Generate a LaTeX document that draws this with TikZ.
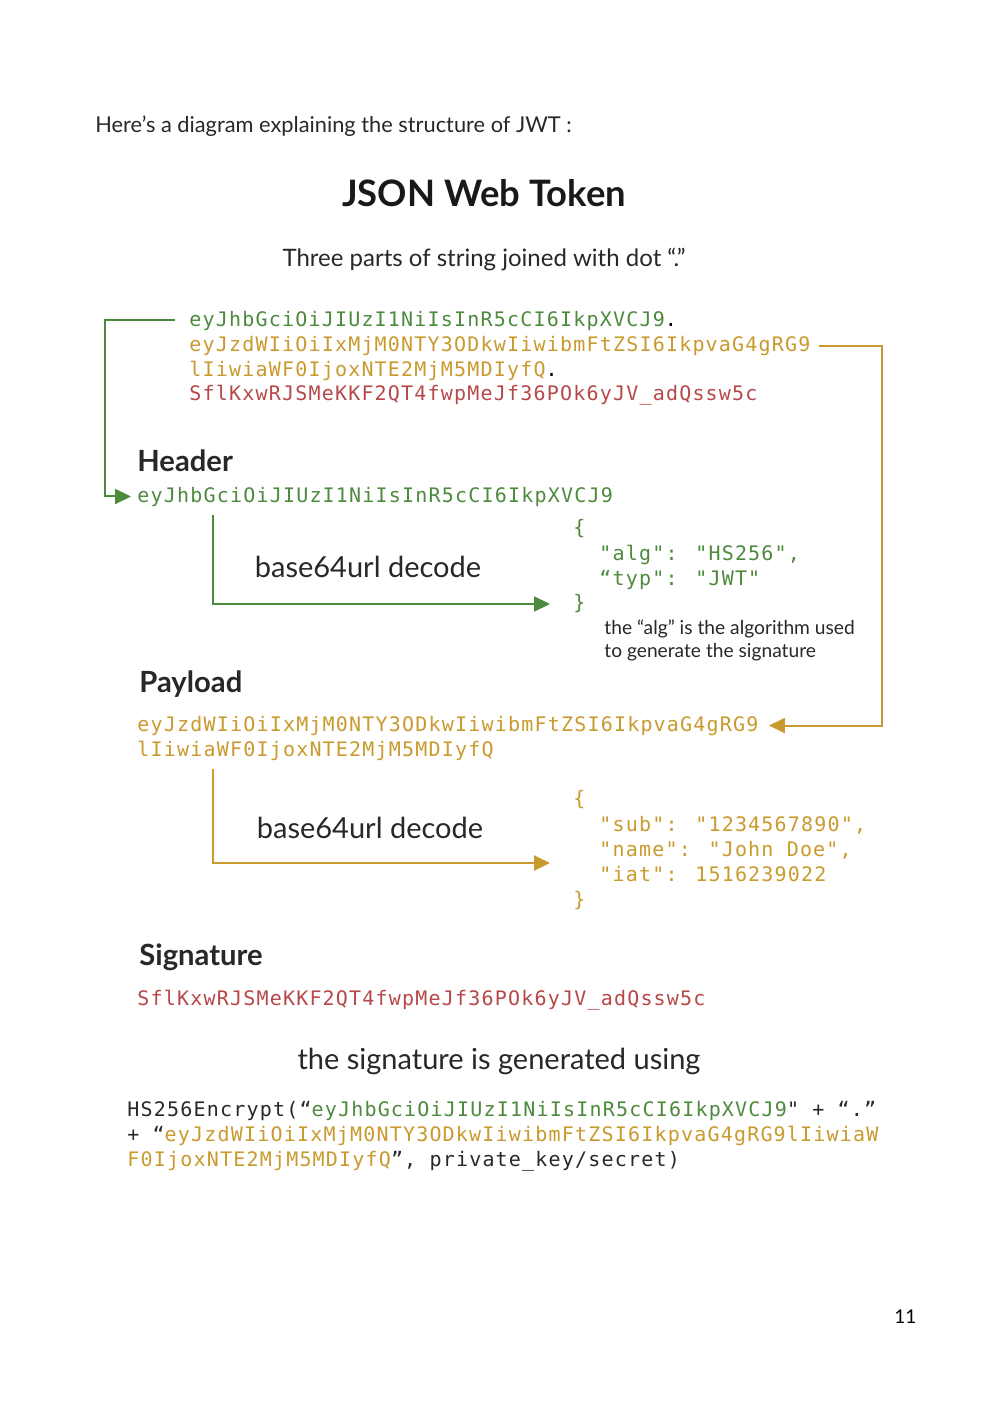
\documentclass[tikz,border=0pt]{standalone}
\usepackage{fontspec}
\setmainfont{Lato}
\newfontfamily\codefont{DejaVu Sans Mono}[LetterSpace=6]
\usetikzlibrary{arrows.meta}
\definecolor{jgreen}{RGB}{78,138,62}
\definecolor{jgold}{RGB}{201,154,46}
\definecolor{jred}{RGB}{183,72,74}
\definecolor{jtext}{RGB}{40,40,40}
\tikzset{
  txt/.style={inner sep=0pt, anchor=base west, text=jtext},
  ctxt/.style={inner sep=0pt, anchor=base, text=jtext},
  code/.style={inner sep=0pt, anchor=base west, font=\codefont\fontsize{10}{12}\selectfont},
  lbl/.style={txt, font=\bfseries\fontsize{14.6}{17}\selectfont},
  conn/.style={line width=1pt},
  tip/.style={-{Triangle[length=8pt,width=7.5pt]}},
}
\begin{document}
\begin{tikzpicture}[x=0.5pt,y=-0.5pt]
\useasboundingbox (0,0) rectangle (1005,1423);
\fill[white] (0,0) rectangle (1005,1423);

\node[txt, font=\fontsize{10.9}{13}\selectfont] (intro) at (95,133) {Here’s a diagram explaining the structure of JWT :};
\node[ctxt, font=\bfseries\fontsize{18.2}{22}\selectfont, text=black!90] (title) at (484,207) {JSON Web Token};
\node[ctxt, font=\fontsize{12}{14}\selectfont] (sub) at (484,266) {Three parts of string joined with dot “.”};

% full token
\node[code, text=jgreen] (tok1) at (189,326) {eyJhbGciOiJIUzI1NiIsInR5cCI6IkpXVCJ9\textcolor{black}{.}};
\node[code, text=jgold] (tok2) at (189,351) {eyJzdWIiOiIxMjM0NTY3ODkwIiwibmFtZSI6IkpvaG4gRG9};
\node[code, text=jgold] (tok3) at (189,376) {lIiwiaWF0IjoxNTE2MjM5MDIyfQ\textcolor{black}{.}};
\node[code, text=jred] (tok4) at (189,400) {SflKxwRJSMeKKF2QT4fwpMeJf36POk6yJV\_adQssw5c};

% header
\node[lbl] (hlbl) at (137,471) {Header};
\node[code, text=jgreen] (htok) at (137,502) {eyJhbGciOiJIUzI1NiIsInR5cCI6IkpXVCJ9};
\node[ctxt, font=\fontsize{14.5}{17}\selectfont] (hdec) at (368,577) {base64url decode};
\node[code, text=jgreen] (hj1) at (573,534) {\{};
\node[code, text=jgreen] (hj2) at (599,560) {"alg": "HS256",};
\node[code, text=jgreen] (hj3) at (599,585) {“typ": "JWT"};
\node[code, text=jgreen] (hj4) at (573,609) {\}};
\node[txt, font=\fontsize{9.6}{11}\selectfont] (note1) at (604,634) {the “alg” is the algorithm used};
\node[txt, font=\fontsize{9.6}{11}\selectfont] (note2) at (604,657) {to generate the signature};

% payload
\node[lbl] (plbl) at (139,692) {Payload};
\node[code, text=jgold] (ptok1) at (137,731) {eyJzdWIiOiIxMjM0NTY3ODkwIiwibmFtZSI6IkpvaG4gRG9};
\node[code, text=jgold] (ptok2) at (137,756) {lIiwiaWF0IjoxNTE2MjM5MDIyfQ};
\node[ctxt, font=\fontsize{14.5}{17}\selectfont] (pdec) at (370,838) {base64url decode};
\node[code, text=jgold] (pj1) at (573,805) {\{};
\node[code, text=jgold] (pj2) at (599,831) {"sub": "1234567890",};
\node[code, text=jgold] (pj3) at (599,856) {"name": "John Doe",};
\node[code, text=jgold] (pj4) at (599,881) {"iat": 1516239022};
\node[code, text=jgold] (pj5) at (573,906) {\}};

% signature
\node[lbl] (slbl) at (139,965) {Signature};
\node[code, text=jred] (stok) at (137,1005) {SflKxwRJSMeKKF2QT4fwpMeJf36POk6yJV\_adQssw5c};
\node[ctxt, font=\fontsize{14.5}{17}\selectfont] (sgen) at (499,1069) {the signature is generated using};
\node[code, text=jtext] (c1) at (127,1116) {HS256Encrypt(“\textcolor{jgreen}{eyJhbGciOiJIUzI1NiIsInR5cCI6IkpXVCJ9}" + “.”};
\node[code, text=jtext] (c2) at (127,1141) {+ “\textcolor{jgold}{eyJzdWIiOiIxMjM0NTY3ODkwIiwibmFtZSI6IkpvaG4gRG9lIiwiaW}};
\node[code, text=jtext] (c3) at (127,1166) {\textcolor{jgold}{F0IjoxNTE2MjM5MDIyfQ}”, private\_key/secret)};

\node[txt, font=\fontsize{9.5}{12}\selectfont, text=black] (pg) at (894,1323) {11};

% connectors
\coordinate (gL) at (105,0);
\coordinate (oR) at (882,0);
\coordinate (hx) at (213,0);
\coordinate (ax) at (550,0);
\draw[conn, jgreen, tip] ([xshift=-7pt]tok1.west) -- (tok1.west -| gL) |- ([xshift=-3pt]htok.west);
\draw[conn, jgold, tip] ([xshift=4pt]tok2.east) -- (tok2.east -| oR) |- ([xshift=5pt]ptok1.east);
\draw[conn, jgreen, tip] ([yshift=-4pt]htok.south -| hx) -- (213,604) -- (550,604);
\draw[conn, jgold, tip] ([yshift=-4pt]ptok2.south -| hx) -- (213,863) -- (550,863);
\end{tikzpicture}
\end{document}
